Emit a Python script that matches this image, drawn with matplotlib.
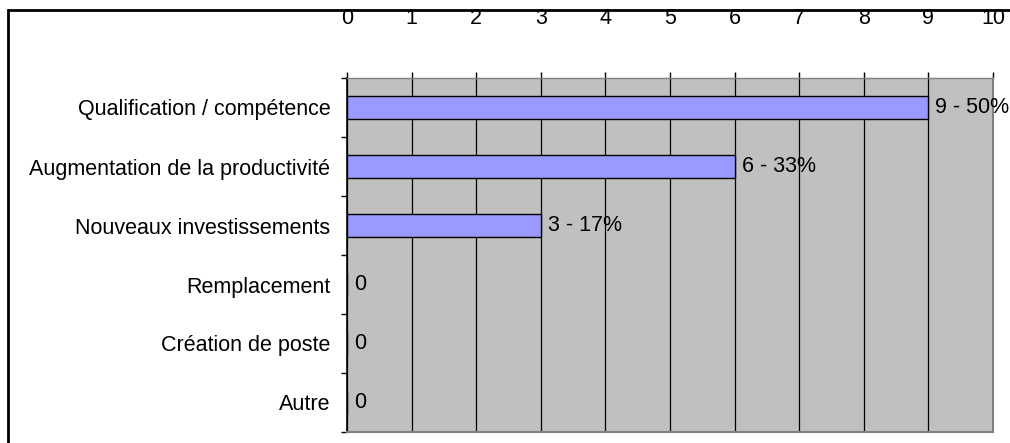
import matplotlib
matplotlib.use("Agg")
import matplotlib.pyplot as plt
from matplotlib.patches import Rectangle

categories = ["Qualification / compétence", "Augmentation de la productivité",
              "Nouveaux investissements", "Remplacement", "Création de poste", "Autre"]
counts = [9, 6, 3, 0, 0, 0]
percents = [50, 33, 17, None, None, None]
x_ticks = list(range(0, 11))

plt.rcParams['font.family'] = ['Liberation Sans', 'DejaVu Sans']
FS = 15.5

W, H = 1010, 443
fig = plt.figure(figsize=(W / 100, H / 100), dpi=100)

# outer chart frame
fig.patches.append(Rectangle((8 / W, -0.1), 1.2, 1 - 10 / H + 0.1, transform=fig.transFigure,
                             fill=False, edgecolor='black', linewidth=2.0, zorder=0))

left, right, top, bottom = 347, 993, 78, 432
ax = fig.add_axes([left / W, 1 - bottom / H, (right - left) / W, (bottom - top) / H])
ax.set_facecolor('#C0C0C0')

n = len(categories)
ypos = list(range(n))
ax.barh(ypos, counts, height=0.39, color='#9999FF', edgecolor='black', linewidth=1.0, zorder=3)

ax.set_xlim(0, 10)
ax.set_ylim(n - 0.5, -0.5)

for y, c, p in zip(ypos, counts, percents):
    txt = f"{c} - {p}%" if p is not None else f"{c}"
    ax.annotate(txt, (c, y), xytext=(5, 0), textcoords='offset points',
                va='center', ha='left', fontsize=FS, zorder=4)

ax.xaxis.tick_top()
ax.set_xticks(x_ticks)
ax.set_xticklabels([str(t) for t in x_ticks], fontsize=FS)
ax.tick_params(axis='x', direction='out', length=4.5, width=1, pad=31)
ax.grid(axis='x', color='black', linewidth=0.9, zorder=1)

ax.set_yticks([i - 0.5 for i in range(n + 1)], minor=False)
ax.set_yticklabels([])
ax.set_yticks(ypos, minor=True)
ax.set_yticklabels(categories, minor=True, fontsize=FS)
ax.tick_params(axis='y', which='major', direction='out', length=4.5, width=1)
ax.tick_params(axis='y', which='minor', length=0, pad=12)

ax.spines['left'].set_color('black')
ax.spines['left'].set_linewidth(1.2)
for s in ('right', 'bottom'):
    ax.spines[s].set_color('#808080')
    ax.spines[s].set_linewidth(1.5)
ax.spines['top'].set_color('#808080')
ax.spines['top'].set_linewidth(1.0)

fig.savefig("out.png", dpi=100)
